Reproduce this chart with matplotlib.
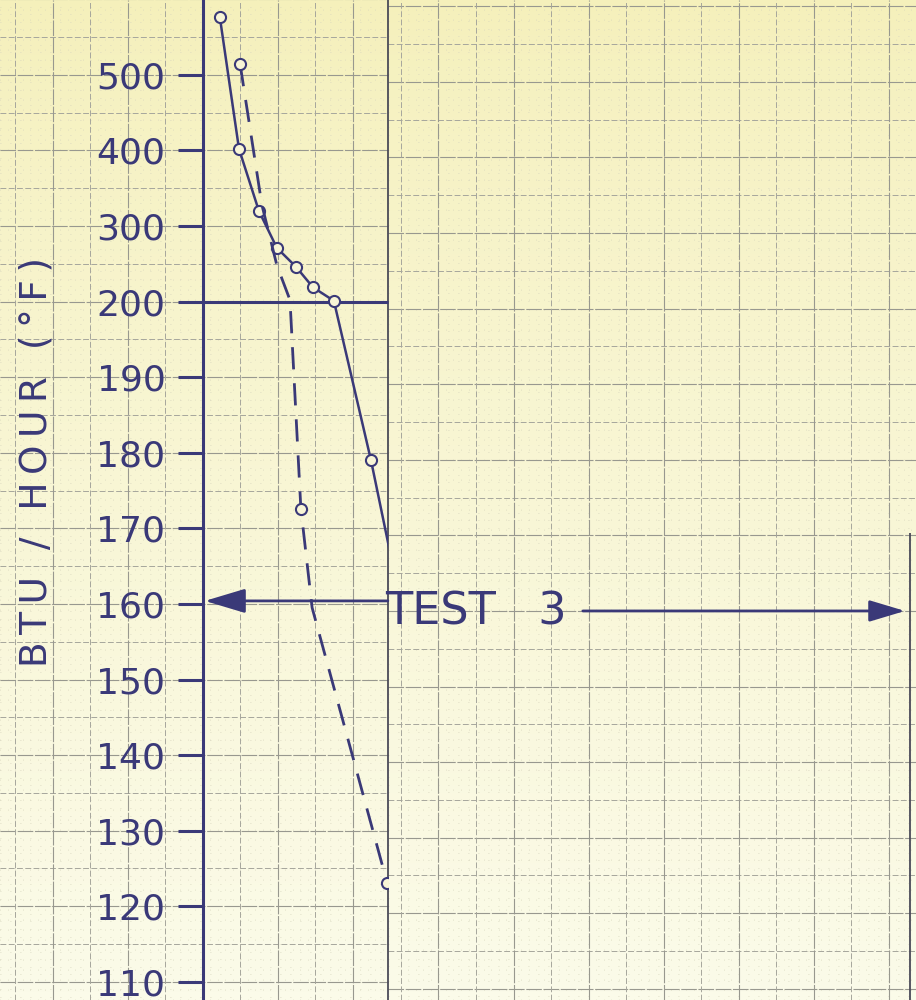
import numpy as np
import matplotlib
matplotlib.use("Agg")
import matplotlib.pyplot as plt
import matplotlib.transforms as mtransforms
from matplotlib.patches import Rectangle

# y tick values (the scale is broken at 200: 100 per step above, 10 per step below)
tick_values = [110, 120, 130, 140, 150, 160, 170, 180, 190, 200, 300, 400, 500]

# solid curve (last point is where the line runs off the sheet, no marker)
solid_x = [0.45, 0.96, 1.49, 1.97, 2.48, 2.93, 3.49, 4.48, 4.96]
solid_y = [576, 402, 320, 271, 246, 219, 201, 179, 167.5]
solid_marked = [0, 1, 2, 3, 4, 5, 6, 7]

# dashed curve
dash_x = [0.99, 1.57, 1.97, 2.32, 2.61, 2.91, 4.91]
dash_y = [514, 328, 248, 202, 172.6, 159.5, 123.1]
dash_marked = [0, 4, 6]

test_label = "TEST   3"
test_level = 160.4

ink = "#3a3978"
paper_top = "#f5f0bb"
paper_bottom = "#fbfbe9"
thin = "\u2009"


def fwd(v):
    v = np.asarray(v, dtype=float)
    return np.where(v <= 200, (v - 110) / 10.0, 9 + (v - 200) / 100.0)


def inv(p):
    p = np.asarray(p, dtype=float)
    return np.where(p <= 9, 110 + 10.0 * p, 200 + 100.0 * (p - 9))


def spaced(s):
    return thin.join(s)


fig = plt.figure(figsize=(9.16, 10), dpi=100)

# paper background
bg = fig.add_axes([0, 0, 1, 1], zorder=0)
grad = np.linspace(0, 1, 256)[:, None] ** 0.8
cmap = matplotlib.colors.LinearSegmentedColormap.from_list("paper", [paper_top, paper_bottom])
bg.imshow(grad, aspect="auto", cmap=cmap, extent=[0, 1, 0, 1], origin="upper")
bg.axis("off")

ax = fig.add_axes([0, 0, 1, 1], zorder=1)
ax.patch.set_alpha(0)
ax.set_yscale("function", functions=(fwd, inv))
x0, x1 = -5.413, 19.013
edge = 4.93      # edge of the left sheet
edge2 = 18.85    # edge of the lower right sheet
ax.set_xlim(x0, x1)
ax.set_ylim(107.6, 599)

major_kw = dict(color="#98988f", lw=0.8, ls=(0, (14, 1.5)), zorder=1)
minor_kw = dict(color="#a6a69c", lw=0.7, ls=(0, (6, 2.5)), zorder=1)
dot_kw = dict(color="#d6d4bd", lw=0.6, ls=(0, (1, 11)), zorder=0.5)

# graph paper grid, left sheet
pos = np.arange(-1, 14, 0.5)
for p in pos:
    kw = major_kw if abs(p - round(p)) < 1e-6 else minor_kw
    ax.hlines(inv(p), x0, edge, **kw)
for p in np.arange(-1, 14, 0.1):
    ax.hlines(inv(p), x0, edge, **dot_kw)
for k in range(-5, 5):
    kw = major_kw if k % 2 == 0 else minor_kw
    ax.vlines(k, 107.6, 599, **kw)
for xx in np.arange(-5.4, edge, 0.2):
    ax.vlines(xx, 107.6, 599, **dot_kw)

# right sheet, slightly offset
shift = -7 / 75.6
for p in pos:
    kw = major_kw if abs(p - round(p)) < 1e-6 else minor_kw
    ax.hlines(inv(p + shift), edge, x1, **kw)
for p in np.arange(-1, 14, 0.1):
    ax.hlines(inv(p + shift), edge, x1, **dot_kw)
for k in range(0, 14):
    kw = major_kw if k % 2 == 1 else minor_kw
    ax.vlines(5.28 + k, 107.6, 599, **kw)
for xx in np.arange(5.28, x1, 0.2):
    ax.vlines(xx, 107.6, 599, **dot_kw)

# sheet edges
ax.vlines(edge, 107.6, 599, color="#4a4a58", lw=1.3, zorder=2)
ax.vlines(edge2, 107.6, 169.4, color="#4a4a58", lw=1.3, zorder=2)

# axis and ticks
ax.spines["left"].set_position(("data", 0))
ax.spines["left"].set_color(ink)
ax.spines["left"].set_linewidth(2.2)
for s in ["right", "top", "bottom"]:
    ax.spines[s].set_visible(False)
ax.set_xticks([])
ax.set_yticks(tick_values)
ax.set_yticklabels([str(v) for v in tick_values])
ax.yaxis.set_minor_locator(matplotlib.ticker.NullLocator())
ax.tick_params(axis="y", direction="out", length=18, width=2.2, color=ink,
               labelcolor=ink, labelsize=26, pad=9)
ax.set_ylabel(spaced("BTU / HOUR (°F)"), fontsize=27, color=ink)
ax.yaxis.set_label_coords(0.060, 0.538)

# break line at 200
ax.hlines(200, 0, edge, color=ink, lw=2.2, zorder=3)

clip_tr = mtransforms.blended_transform_factory(ax.transData, ax.transAxes)
clip = Rectangle((x0, 0), edge - x0, 1, transform=clip_tr, facecolor="none", edgecolor="none")
ax.add_patch(clip)

l1, = ax.plot(solid_x, solid_y, color=ink, lw=1.8, marker="o", markevery=solid_marked,
              markersize=8, mfc="#f8f5d6", mec=ink, mew=1.5, zorder=4)
l2, = ax.plot(dash_x, dash_y, color=ink, lw=2.0, ls=(0, (8, 5)), marker="o",
              markevery=dash_marked, markersize=8, mfc="#f8f5d6", mec=ink, mew=1.5, zorder=4)
l1.set_clip_path(clip)
l2.set_clip_path(clip)

# TEST 3 arrows
ax.annotate("", xy=(0.05, test_level), xytext=(edge, test_level),
            arrowprops=dict(arrowstyle="-|>,head_length=1.0,head_width=0.3",
                            color=ink, lw=2.0, mutation_scale=25, shrinkA=0, shrinkB=0), zorder=4)
ax.annotate("", xy=(18.72, 159.07), xytext=(10.13, 159.07),
            arrowprops=dict(arrowstyle="-|>,head_length=1.0,head_width=0.3",
                            color=ink, lw=2.0, mutation_scale=22, shrinkA=0, shrinkB=0), zorder=4)
ax.text(4.85, 158.9, test_label, fontsize=32, color=ink, va="center", ha="left", zorder=4)

fig.savefig("out.png", dpi=100)
